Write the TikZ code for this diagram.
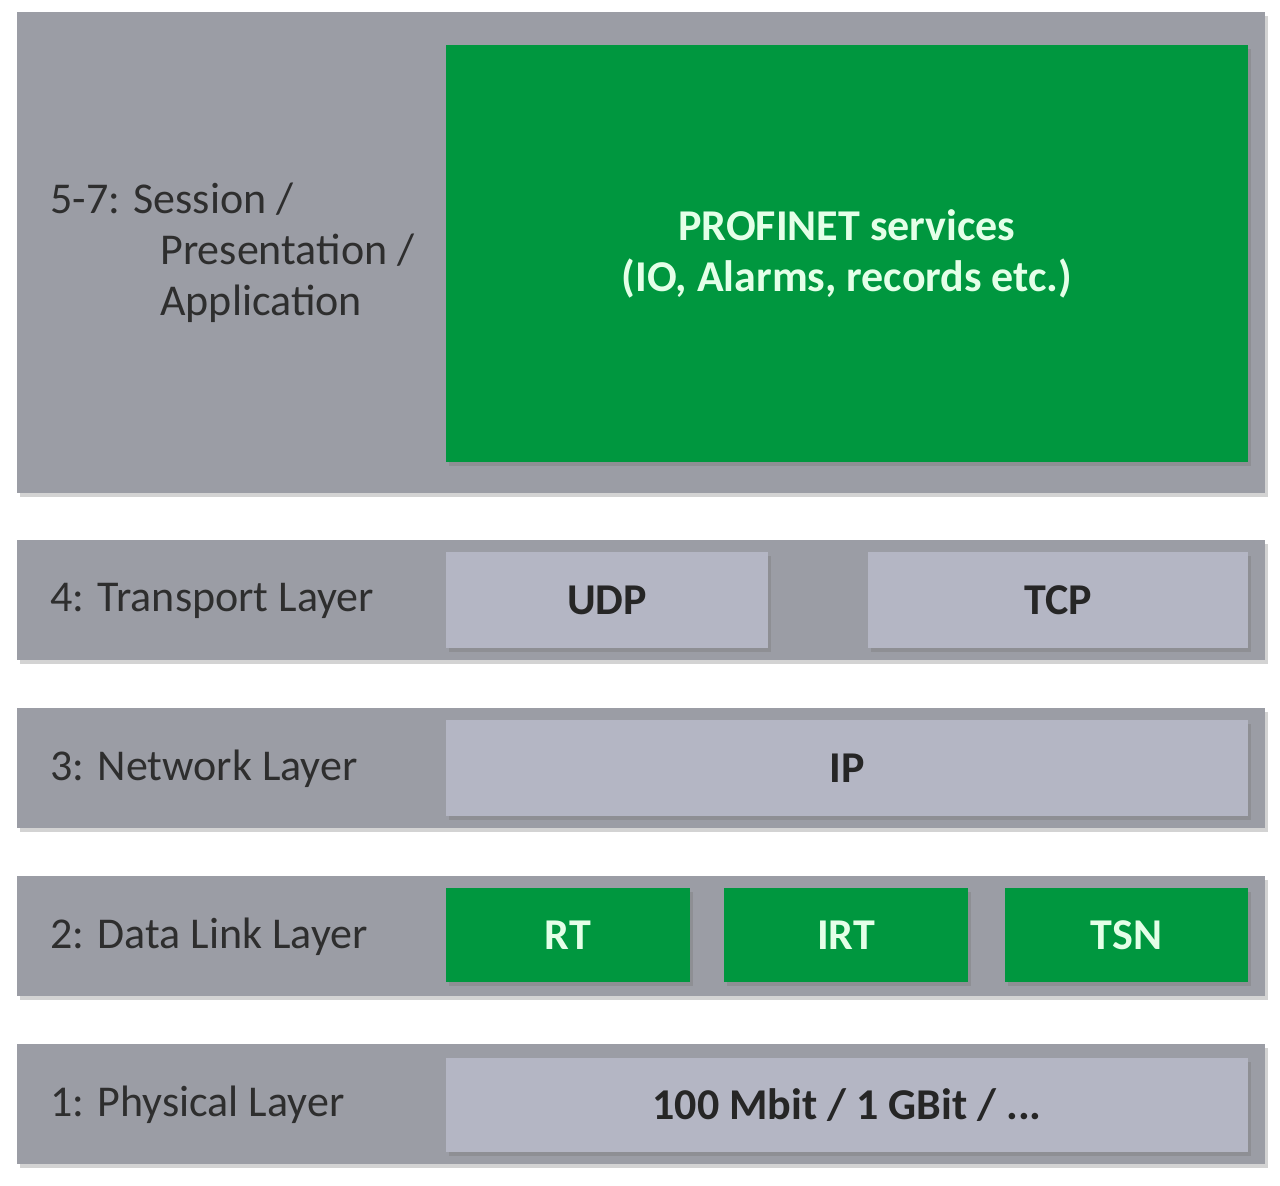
\documentclass[tikz,border=0pt]{standalone}
\usepackage{fontspec}
\setmainfont{Carlito}
\usetikzlibrary{positioning}
\usetikzlibrary{shadows}
\definecolor{bandgray}{HTML}{9B9DA5}
\definecolor{boxgray}{HTML}{B4B6C4}
\definecolor{pngreen}{HTML}{00973F}
\definecolor{pntext}{HTML}{E4FFE8}
\tikzset{
  every node/.style={font=\fontsize{22}{25.5}\selectfont},
  band/.style={fill=bandgray, inner sep=0pt,
    drop shadow={shadow xshift=1.5pt, shadow yshift=-2pt, opacity=0.35}},
  graybox/.style={fill=boxgray, inner sep=0pt, text=black!85,
    font=\fontsize{22}{25.5}\selectfont\bfseries,
    drop shadow={shadow xshift=1.5pt, shadow yshift=-2pt, opacity=0.45}},
  greenbox/.style={fill=pngreen, inner sep=0pt, text=pntext, align=center,
    font=\fontsize{22}{25.5}\selectfont\bfseries,
    drop shadow={shadow xshift=1.5pt, shadow yshift=-2pt, opacity=0.45}},
  layertext/.style={anchor=west, inner sep=0pt, text=black!82, align=left}
}
\begin{document}
\begin{tikzpicture}[x=0.5pt,y=-0.5pt]
\useasboundingbox (0,0) rectangle (1280,1186);
% layer bands
\node[band, minimum width=624pt, minimum height=240.5pt] (b7) at (641,252.5) {};
\node[band, minimum width=624pt, minimum height=60pt] (b4) at (641,600) {};
\node[band, minimum width=624pt, minimum height=60pt] (b3) at (641,768) {};
\node[band, minimum width=624pt, minimum height=60pt] (b2) at (641,936) {};
\node[band, minimum width=624pt, minimum height=60pt] (b1) at (641,1104) {};
% protocol boxes
\node[greenbox, minimum width=401pt, minimum height=208.5pt] (pn) at (847,253.5)
  {PROFINET services\\(IO, Alarms, records etc.)};
\node[graybox, minimum width=161pt, minimum height=48pt] (udp) at (607,600) {UDP};
\node[graybox, minimum width=190pt, minimum height=48pt] (tcp) at (1058,600) {TCP};
\node[graybox, minimum width=401pt, minimum height=48pt] (ip) at (847,768) {IP};
\node[greenbox, minimum width=122pt, minimum height=47pt] (rt) at (568,935) {RT};
\node[greenbox, minimum width=122pt, minimum height=47pt] (irt) at (846,935) {IRT};
\node[greenbox, minimum width=121.5pt, minimum height=47pt] (tsn) at (1126.5,935) {TSN};
\node[graybox, minimum width=401pt, minimum height=47pt] (phy) at (847,1105) {100 Mbit / 1 GBit / ...};
% layer names
\node[layertext] (l7) at (50,253) {5-7: Session /\\\hspace*{55pt}Presentation /\\\hspace*{55pt}Application};
\node[layertext] (l4) at (50,601) {4: Transport Layer};
\node[layertext] (l3) at (50,769) {3: Network Layer};
\node[layertext] (l2) at (50,937) {2: Data Link Layer};
\node[layertext] (l1) at (50,1105) {1: Physical Layer};
\end{tikzpicture}
\end{document}
